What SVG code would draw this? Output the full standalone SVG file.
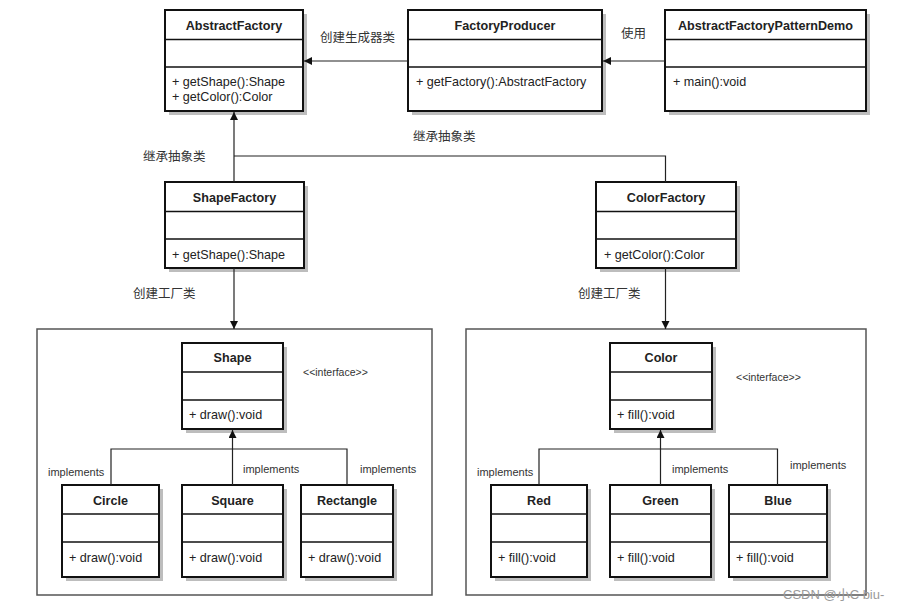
<svg xmlns="http://www.w3.org/2000/svg" width="907" height="610" viewBox="0 0 907 610">
<style>
.bg{fill:#fff}
.sh{fill:#bdbdbd}
.box{fill:#fff;stroke:#111;stroke-width:2}
.div{stroke:#111;stroke-width:1.6;fill:none}
.cont{fill:none;stroke:#555;stroke-width:1.5}
.t{font-family:"Liberation Sans",Arial,sans-serif;font-size:12.6px;font-weight:bold;fill:#222;text-anchor:middle}
.m{font-family:"Liberation Sans",Arial,sans-serif;font-size:12.6px;fill:#222}
.lbl{font-family:"Liberation Sans","Noto Sans CJK SC",sans-serif;font-size:12.5px;fill:#333}
.imp{font-family:"Liberation Sans",Arial,sans-serif;font-size:11px;fill:#333}
.itf{font-family:"Liberation Sans",Arial,sans-serif;font-size:10.5px;fill:#333}
.c{fill:none;stroke:#222;stroke-width:1.2}
.wm{font-family:"Liberation Sans","Noto Sans CJK SC",sans-serif;font-size:13px;fill:#9a9a9a}
</style>
<defs>
<marker id="arr" markerWidth="10" markerHeight="10" refX="8" refY="4" orient="auto" markerUnits="userSpaceOnUse">
<path d="M0,0 L8,4 L0,8 Z" fill="#111"/>
</marker>
</defs>
<rect class="bg" x="0" y="0" width="907" height="610"/>

<g id="shapeContainer"><rect class="cont" x="37" y="329" width="395" height="266"/></g>
<g id="colorContainer"><rect class="cont" x="466" y="329" width="400" height="266"/></g>

<g id="AbstractFactory">
<rect class="sh" x="169" y="14" width="138" height="101"/>
<rect class="box" x="165" y="10" width="138" height="101"/>
<line class="div" x1="165" y1="39.5" x2="303" y2="39.5"/>
<line class="div" x1="165" y1="67" x2="303" y2="67"/>
<text class="t" x="234" y="30">AbstractFactory</text>
<text class="m" x="172" y="86">+ getShape():Shape</text>
<text class="m" x="172" y="101">+ getColor():Color</text>
</g>

<g id="FactoryProducer">
<rect class="sh" x="412" y="14" width="194" height="101"/>
<rect class="box" x="408" y="10" width="194" height="101"/>
<line class="div" x1="408" y1="39.5" x2="602" y2="39.5"/>
<line class="div" x1="408" y1="67" x2="602" y2="67"/>
<text class="t" x="505" y="30">FactoryProducer</text>
<text class="m" x="416" y="86">+ getFactory():AbstractFactory</text>
</g>

<g id="AbstractFactoryPatternDemo">
<rect class="sh" x="669" y="14" width="201" height="101"/>
<rect class="box" x="665" y="10" width="201" height="101"/>
<line class="div" x1="665" y1="39.5" x2="866" y2="39.5"/>
<line class="div" x1="665" y1="67" x2="866" y2="67"/>
<text class="t" x="765.5" y="30">AbstractFactoryPatternDemo</text>
<text class="m" x="673" y="86">+ main():void</text>
</g>

<g id="ShapeFactory">
<rect class="sh" x="169" y="186" width="139" height="86"/>
<rect class="box" x="165" y="182" width="139" height="86"/>
<line class="div" x1="165" y1="211.5" x2="304" y2="211.5"/>
<line class="div" x1="165" y1="239" x2="304" y2="239"/>
<text class="t" x="234.5" y="202">ShapeFactory</text>
<text class="m" x="172" y="259">+ getShape():Shape</text>
</g>

<g id="ColorFactory">
<rect class="sh" x="600" y="186" width="140" height="86"/>
<rect class="box" x="596" y="182" width="140" height="86"/>
<line class="div" x1="596" y1="211.5" x2="736" y2="211.5"/>
<line class="div" x1="596" y1="239" x2="736" y2="239"/>
<text class="t" x="666" y="202">ColorFactory</text>
<text class="m" x="604" y="259">+ getColor():Color</text>
</g>

<g id="Shape">
<rect class="sh" x="186" y="347" width="101" height="86"/>
<rect class="box" x="182" y="343" width="101" height="86"/>
<line class="div" x1="182" y1="372" x2="283" y2="372"/>
<line class="div" x1="182" y1="400" x2="283" y2="400"/>
<text class="t" x="232.5" y="362">Shape</text>
<text class="m" x="189" y="419">+ draw():void</text>
</g>
<text class="itf" x="303" y="376">&lt;&lt;interface&gt;&gt;</text>

<g id="Circle">
<rect class="sh" x="66" y="489" width="97" height="92"/>
<rect class="box" x="62" y="485" width="97" height="92"/>
<line class="div" x1="62" y1="514" x2="159" y2="514"/>
<line class="div" x1="62" y1="542" x2="159" y2="542"/>
<text class="t" x="110.5" y="504.5">Circle</text>
<text class="m" x="69" y="561.5">+ draw():void</text>
</g>

<g id="Square">
<rect class="sh" x="186" y="489" width="101" height="92"/>
<rect class="box" x="182" y="485" width="101" height="92"/>
<line class="div" x1="182" y1="514" x2="283" y2="514"/>
<line class="div" x1="182" y1="542" x2="283" y2="542"/>
<text class="t" x="232.5" y="504.5">Square</text>
<text class="m" x="189" y="561.5">+ draw():void</text>
</g>

<g id="Rectangle">
<rect class="sh" x="305" y="489" width="92" height="92"/>
<rect class="box" x="301" y="485" width="92" height="92"/>
<line class="div" x1="301" y1="514" x2="393" y2="514"/>
<line class="div" x1="301" y1="542" x2="393" y2="542"/>
<text class="t" x="347" y="504.5">Rectangle</text>
<text class="m" x="308" y="561.5">+ draw():void</text>
</g>

<g id="Color">
<rect class="sh" x="614" y="347" width="102" height="86"/>
<rect class="box" x="610" y="343" width="102" height="86"/>
<line class="div" x1="610" y1="372" x2="712" y2="372"/>
<line class="div" x1="610" y1="400" x2="712" y2="400"/>
<text class="t" x="661" y="362">Color</text>
<text class="m" x="617" y="419">+ fill():void</text>
</g>
<text class="itf" x="736" y="380.5">&lt;&lt;interface&gt;&gt;</text>

<g id="Red">
<rect class="sh" x="495" y="489" width="96" height="92"/>
<rect class="box" x="491" y="485" width="96" height="92"/>
<line class="div" x1="491" y1="514" x2="587" y2="514"/>
<line class="div" x1="491" y1="542" x2="587" y2="542"/>
<text class="t" x="539" y="504.5">Red</text>
<text class="m" x="498" y="561.5">+ fill():void</text>
</g>

<g id="Green">
<rect class="sh" x="614" y="489" width="101" height="92"/>
<rect class="box" x="610" y="485" width="101" height="92"/>
<line class="div" x1="610" y1="514" x2="711" y2="514"/>
<line class="div" x1="610" y1="542" x2="711" y2="542"/>
<text class="t" x="660.5" y="504.5">Green</text>
<text class="m" x="617" y="561.5">+ fill():void</text>
</g>

<g id="Blue">
<rect class="sh" x="733" y="489" width="98" height="92"/>
<rect class="box" x="729" y="485" width="98" height="92"/>
<line class="div" x1="729" y1="514" x2="827" y2="514"/>
<line class="div" x1="729" y1="542" x2="827" y2="542"/>
<text class="t" x="778" y="504.5">Blue</text>
<text class="m" x="736" y="561.5">+ fill():void</text>
</g>

<g id="connectors">
<line class="c" x1="408" y1="61" x2="304" y2="61" marker-end="url(#arr)"/>
<line class="c" x1="665" y1="61" x2="603" y2="61" marker-end="url(#arr)"/>
<line class="c" x1="234" y1="182" x2="234" y2="112" marker-end="url(#arr)"/>
<path class="c" d="M665.5,182 V156 H234"/>
<line class="c" x1="234" y1="268" x2="234" y2="329" marker-end="url(#arr)"/>
<line class="c" x1="665.5" y1="268" x2="665.5" y2="329" marker-end="url(#arr)"/>
<line class="c" x1="232.5" y1="449" x2="232.5" y2="430" marker-end="url(#arr)"/>
<path class="c" d="M111,485 V449 H347 V485 M232.5,485 V449"/>
<line class="c" x1="660.5" y1="449" x2="660.5" y2="430" marker-end="url(#arr)"/>
<path class="c" d="M539,485 V449 H777.5 V485 M660.5,485 V449"/>
</g>

<g id="labels">
<text class="lbl" x="320" y="41.5">创建生成器类</text>
<text class="lbl" x="621" y="37.5">使用</text>
<text class="lbl" x="143" y="161">继承抽象类</text>
<text class="lbl" x="413" y="141">继承抽象类</text>
<text class="lbl" x="133" y="297.5">创建工厂类</text>
<text class="lbl" x="578" y="297.5">创建工厂类</text>
<text class="imp" x="48" y="475.5">implements</text>
<text class="imp" x="243" y="473">implements</text>
<text class="imp" x="360" y="473">implements</text>
<text class="imp" x="477" y="475.5">implements</text>
<text class="imp" x="672" y="473">implements</text>
<text class="imp" x="790" y="469">implements</text>
</g>

<text class="wm" x="783" y="598.5">CSDN @小C biu-</text>
</svg>
